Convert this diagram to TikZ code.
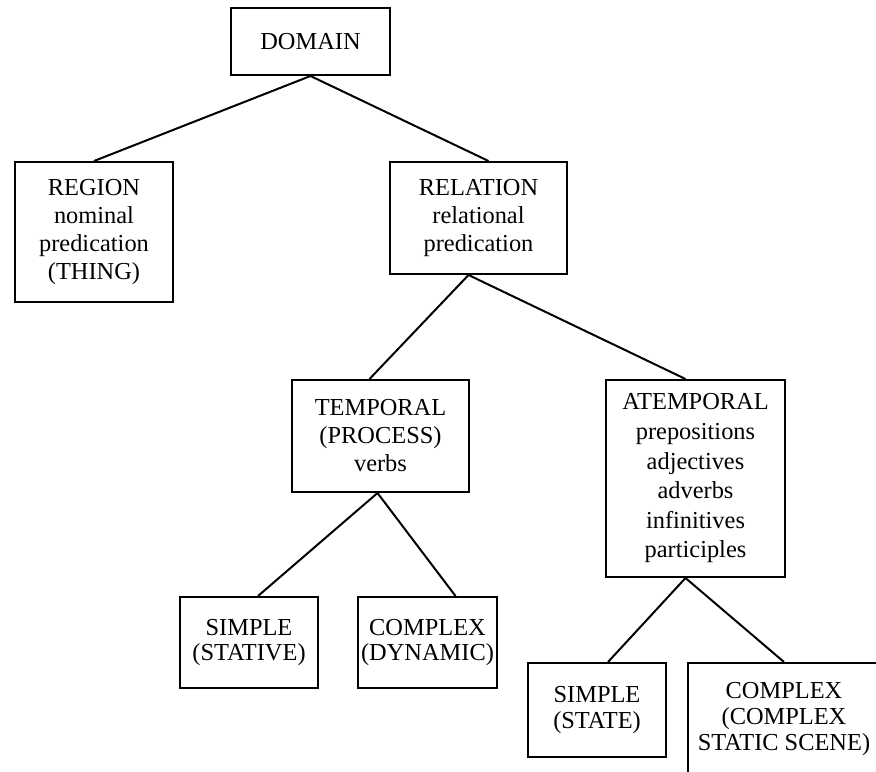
\documentclass[tikz,border=0pt]{standalone}
\usepackage{fontspec}
\setmainfont{Liberation Serif}
\usetikzlibrary{calc}

\tikzset{
  box/.style={draw, line width=1pt, align=center, inner sep=0pt,
    font=\fontsize{12.2}{14}\selectfont},
  tight/.style={font=\fontsize{12.2}{12.8}\selectfont},
  loose/.style={font=\fontsize{12.2}{14.8}\selectfont},
}

\begin{document}
\begin{tikzpicture}[x={(0.5pt,0)}, y={(0,-0.5pt)}]

\useasboundingbox (0,0) rectangle (876,771);
\clip (0,0) rectangle (876,771);

\node [box, minimum width=79.5pt, minimum height=33.5pt] (domain) at (310.5,41.5) {DOMAIN};
\node [box, minimum width=79pt, minimum height=70pt] (region) at (94,232) {REGION\\nominal\\predication\\(THING)};
\node [box, minimum width=88.5pt, minimum height=56pt] (relation) at (478.5,218) {RELATION\\relational\\predication};
\node [box, minimum width=88.5pt, minimum height=56pt] (temporal) at (380.5,436) {TEMPORAL\\(PROCESS)\\verbs};
\node [box, loose, minimum width=89.5pt, minimum height=98.5pt] (atemporal) at (695.5,478.5) {ATEMPORAL\\prepositions\\adjectives\\adverbs\\infinitives\\participles};
\node [box, tight, minimum width=69pt, minimum height=45.5pt] (stative) at (249,642.5) {SIMPLE\\(STATIVE)};
\node [box, tight, minimum width=69.5pt, minimum height=45.5pt] (dynamic) at (427.5,642.5) {COMPLEX\\(DYNAMIC)};
\node [box, tight, minimum width=69pt, minimum height=47pt] (state) at (597,710) {SIMPLE\\(STATE)};
\node [box, tight, minimum width=96pt, minimum height=56pt] (scene) at (784,719) {COMPLEX\\(COMPLEX\\STATIC SCENE)};

\begin{scope}[line width=1pt]
\draw (domain.south) -- (region.north); %domain-region
\draw (domain.south) -- ($(relation.north)+(10,0)$); %domain-relation
\draw ($(relation.south)+(-10,0)$) -- ($(temporal.north)+(-11,0)$); %relation-temporal
\draw ($(relation.south)+(-10,0)$) -- ($(atemporal.north)+(-10,0)$); %relation-atemporal
\draw ($(temporal.south)+(-3,0)$) -- ($(stative.north)+(9,0)$); %temporal-stative
\draw ($(temporal.south)+(-3,0)$) -- ($(dynamic.north)+(28,0)$); %temporal-dynamic
\draw ($(atemporal.south)+(-10,0)$) -- ($(state.north)+(11,0)$); %atemporal-state
\draw ($(atemporal.south)+(-10,0)$) -- (scene.north); %atemporal-scene
\end{scope}

\end{tikzpicture}
\end{document}
